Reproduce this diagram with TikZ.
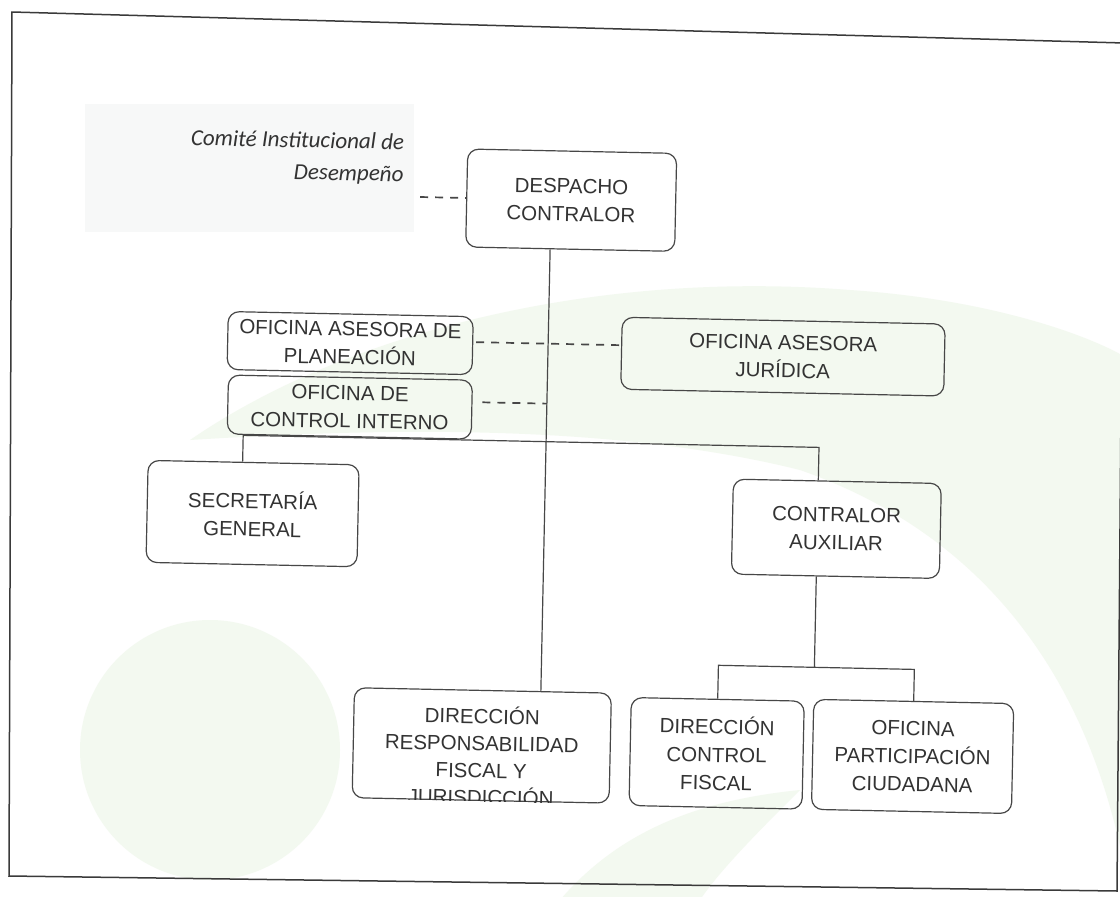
\documentclass[tikz,border=0pt]{standalone}
\usepackage{fontspec}
\setmainfont{Liberation Sans}
\newfontfamily\calibri{Carlito}
\usetikzlibrary{calc}
\definecolor{txt}{HTML}{333333}
\definecolor{ln}{HTML}{474747}
\definecolor{framec}{HTML}{3A3A3A}
\definecolor{wm}{HTML}{F3F9F0}
\definecolor{wmg}{HTML}{F7F8F8}
\begin{document}
\begin{tikzpicture}[x=1pt,y=-1pt,
  box/.style={draw=ln, line width=1.2pt, rounded corners=11pt, align=center, text=txt, inner sep=0pt, font=\fontsize{20.5}{28}\selectfont},
  conn/.style={draw=ln, line width=1.2pt},
  dashc/.style={draw=ln, line width=1.7pt, dash pattern=on 8pt off 7pt},
  lbl/.style={text=txt, inner sep=0pt, font=\fontsize{20.5}{28}\selectfont},
  cmt/.style={text=txt, inner sep=0pt, font=\calibri\itshape\fontsize{23}{32}\selectfont}
]
\useasboundingbox (0,0) rectangle (1120,897);
\fill[white] (0,0) rectangle (1120,897);
% faint watermark shapes
\fill[wmg] (85,104) rectangle (414,232);
\fill[wm] (210,750) circle (130);
\fill[wm] (190,440) .. controls (350,330) and (600,270) .. (850,290)
  .. controls (1000,300) and (1100,340) .. (1130,360) -- (1130,900)
  .. controls (1100,700) and (1000,540) .. (800,470)
  .. controls (600,420) and (350,430) .. (190,440) -- cycle;
\fill[wm] (560,900) .. controls (620,830) and (700,800) .. (800,790)
  .. controls (760,830) and (720,870) .. (700,900) -- cycle;
% frame
\draw[draw=framec, line width=1.5pt] (12,12) -- (1124,43) -- (1117,891) -- (9,876) -- cycle;

\begin{scope}[rotate around={-1.2:(560,448)}, transform shape]
\node[cmt, anchor=base east] (cm1) at (398,153) {Comité Institucional de};
\node[cmt, anchor=base east] (cm2) at (398,185) {Desempeño};
\coordinate (cmend) at (415,200);

\node[box, minimum width=209pt, minimum height=98pt] (dc) at (566,200) {DESPACHO\\CONTRALOR};
\node[box, minimum width=245pt, minimum height=58pt] (oap) at (348,347.5) {OFICINA ASESORA DE\\PLANEACIÓN};
\node[box, minimum width=244pt, minimum height=59pt] (oci) at (349,411.5) {OFICINA DE\\CONTROL INTERNO};
\node[box, minimum width=323pt, minimum height=72pt] (oaj) at (781,352) {OFICINA ASESORA\\JURÍDICA};
\node[box, minimum width=211pt, minimum height=102pt] (sg) at (254,520) {SECRETARÍA\\GENERAL};
\node[box, minimum width=208pt, minimum height=95pt] (ca) at (838,523) {CONTRALOR\\AUXILIAR};
\node[box, minimum width=257pt, minimum height=110pt] (drf) at (488,747) {};
\node[box, minimum width=173pt, minimum height=108pt] (dcf) at (723,750) {DIRECCIÓN\\CONTROL\\FISCAL};
\node[box, minimum width=200pt, minimum height=110pt] (opc) at (919,749) {OFICINA\\PARTICIPACIÓN\\CIUDADANA};

\begin{scope}
\clip[rounded corners=11pt] (drf.south west) rectangle (drf.north east);
\node[lbl, anchor=base] (drf1) at ($(drf.north)+(0,34)$) {DIRECCIÓN};
\node[lbl, anchor=base] (drf2) at ($(drf.north)+(0,61)$) {RESPONSABILIDAD};
\node[lbl, anchor=base] (drf3) at ($(drf.north)+(0,88)$) {FISCAL Y};
\node[lbl, anchor=base] (drf4) at ($(drf.north)+(0,115)$) {JURISDICCIÓN};
\end{scope}

% connectors
\coordinate (vx) at (546,0);
\coordinate (bl) at (243,442);
\coordinate (br) at (819,442);
\coordinate (b2) at (0,662);
\draw[dashc] (cmend) -- (dc.west);
\draw[conn] (dc.south -| vx) -- (drf.north -| vx);
\coordinate (d1) at ($(oap.east)+(3,-3.5)$);
\draw[dashc] (d1) -- (d1 -| oaj.west);
\coordinate (d2) at ($(oci.east)+(10,-7.5)$);
\draw[dashc] (d2) -- (d2 -| vx);
\draw[conn] (bl |- sg.north) -- (bl) -- (br) -- (br |- ca.north);
\draw[conn] (br |- ca.south) -- (br |- b2);
\draw[conn] (dcf.north) -- (dcf.north |- b2) -- (opc.north |- b2) -- (opc.north);
\end{scope}
\end{tikzpicture}
\end{document}
